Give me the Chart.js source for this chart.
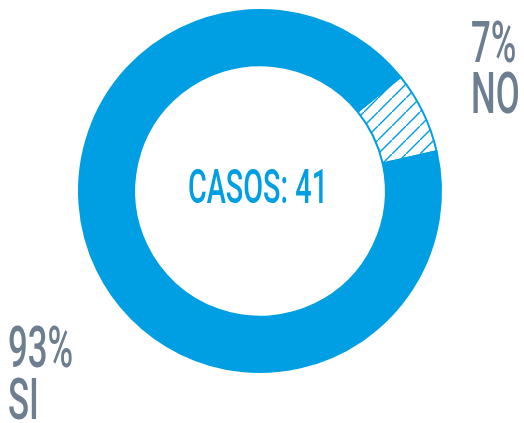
<!DOCTYPE html>
<html>
<head>
<meta charset="utf-8">
<script src="https://cdn.jsdelivr.net/npm/chart.js@4"></script>
<style>
  body { margin: 0; background: #fff; }
  .wrap { position: relative; width: 524px; height: 423px; }
  .lbl {
    position: absolute;
    font-family: Roboto, sans-serif;
    font-weight: 500;
    line-height: 1;
    white-space: nowrap;
    transform-origin: left top;
  }
  .grey { color: #6d7e90; font-size: 57px; transform: scaleX(0.61); }
  .center {
    color: #009fe3; font-size: 48px;
    left: 258px; top: 163px;
    transform: translateX(-50%) scaleX(0.6);
    transform-origin: center top;
  }
</style>
</head>
<body>
<div class="wrap">
  <canvas id="ring" width="524" height="423"></canvas>
  <div class="lbl grey" style="left:471px; top:14px;">7%</div>
  <div class="lbl grey" style="left:471px; top:65px;">NO</div>
  <div class="lbl grey" style="left:8px; top:319px;">93%</div>
  <div class="lbl grey" style="left:8px; top:371px;">SI</div>
  <div class="lbl center">CASOS: 41</div>
</div>
<script>
const categories = ['NO', 'SI'];
const cases = [3, 38];

const blue = '#009fe3';

// white tile with one diagonal blue stroke for the hatched slice
function makeHatch() {
    const c = document.createElement('canvas');
    c.width = 14;
    c.height = 14;
    const g = c.getContext('2d');
    g.fillStyle = '#fff';
    g.fillRect(0, 0, 14, 14);
    g.strokeStyle = blue;
    g.lineWidth = 1.4;
    g.beginPath();
    g.moveTo(-1, 15);
    g.lineTo(15, -1);
    g.stroke();
    return g.createPattern(c, 'repeat');
}

new Chart(document.getElementById('ring'), {
    type: 'doughnut',
    data: {
        labels: categories,
        datasets: [{
            data: cases,
            backgroundColor: [makeHatch(), blue],
            borderColor: blue,
            borderWidth: 2,
        }]
    },
    options: {
        responsive: false,
        animation: false,
        cutout: '69.5%',
        rotation: 51,
        layout: { padding: { left: 78, right: 82, top: 9, bottom: 50 } },
        plugins: {
            legend: { display: false },
            tooltip: { enabled: false }
        }
    }
});
</script>
</body>
</html>
